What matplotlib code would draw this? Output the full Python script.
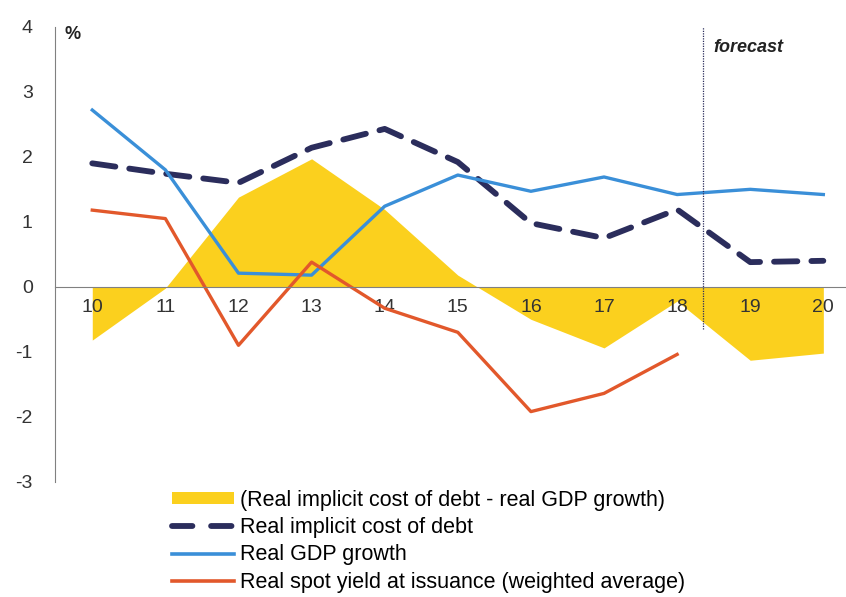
import matplotlib.pyplot as plt
from matplotlib.patches import Patch
from matplotlib.lines import Line2D

plt.rcParams['font.family'] = ['Liberation Sans', 'DejaVu Sans']

years = [10, 11, 12, 13, 14, 15, 16, 17, 18, 19, 20]
year_labels = ["10", "11", "12", "13", "14", "15", "16", "17", "18", "19", "20"]
# yellow area: implicit cost minus GDP growth
gap = [-0.82, -0.02, 1.38, 1.97, 1.19, 0.18, -0.50, -0.94, -0.22, -1.13, -1.02]
cost = [1.90, 1.74, 1.60, 2.14, 2.43, 1.92, 0.98, 0.75, 1.19, 0.38, 0.40]
gdp = [2.72, 1.80, 0.21, 0.18, 1.24, 1.72, 1.47, 1.69, 1.42, 1.50, 1.42]
spot_years = [10, 11, 12, 13, 14, 15, 16, 17, 18]
spot = [1.18, 1.05, -0.90, 0.38, -0.33, -0.70, -1.92, -1.64, -1.04]

c_yel = "#FBD01E"
c_navy = "#2B2D5C"
c_blue = "#3A8FD8"
c_orng = "#E2582B"

fig = plt.figure(figsize=(8.46, 5.97), dpi=100)
ax = fig.add_axes([0.065, 0.193, 0.935, 0.762])

ax.fill_between(years, gap, 0, color=c_yel, lw=0)
ax.plot(years, cost, color=c_navy, lw=4.2, dashes=(4, 2.4), dash_capstyle='round')
ax.plot(years, gdp, color=c_blue, lw=2.4)
ax.plot(spot_years, spot, color=c_orng, lw=2.4)

ax.plot([18.36, 18.36], [-0.65, 4], color=c_navy, lw=0.9, ls=(0, (1, 1)))
ax.text(18.5, 3.62, "forecast", fontsize=13, style='italic', fontweight='bold', color="#222222")

ax.set_xlim(9.49, 20.31)
ax.set_ylim(-3, 4)
ax.set_xticks(years)
ax.set_xticklabels(year_labels)
ax.set_yticks([-3, -2, -1, 0, 1, 2, 3, 4])
ax.set_yticklabels(["-3", "-2", "-1", "0", "1", "2", "3", "4"])
ax.spines['top'].set_visible(False)
ax.spines['right'].set_visible(False)
ax.spines['bottom'].set_position(('data', 0))
ax.spines['bottom'].set_color("#808080")
ax.spines['left'].set_color("#808080")
ax.tick_params(axis='x', length=0, pad=9, labelsize=14, colors="#333333")
ax.tick_params(axis='y', length=0, pad=16, labelsize=14, colors="#333333")
ax.text(9.62, 3.82, "%", fontsize=13, fontweight='bold', color="#222222")

handles = [
    Patch(facecolor=c_yel, edgecolor='none'),
    Line2D([], [], color=c_navy, lw=4.2, dashes=(3.5, 3.2), dash_capstyle='round'),
    Line2D([], [], color=c_blue, lw=2.6),
    Line2D([], [], color=c_orng, lw=2.6),
]
labels = [
    "(Real implicit cost of debt - real GDP growth)",
    "Real implicit cost of debt",
    "Real GDP growth",
    "Real spot yield at issuance (weighted average)",
]
fig.legend(handles, labels, loc='upper left', bbox_to_anchor=(0.19, 0.198), frameon=False,
           fontsize=15.5, handlelength=2.9, handleheight=0.5, labelspacing=0.3, handletextpad=0.3,
           borderpad=0)

fig.savefig("out.png", dpi=100)
